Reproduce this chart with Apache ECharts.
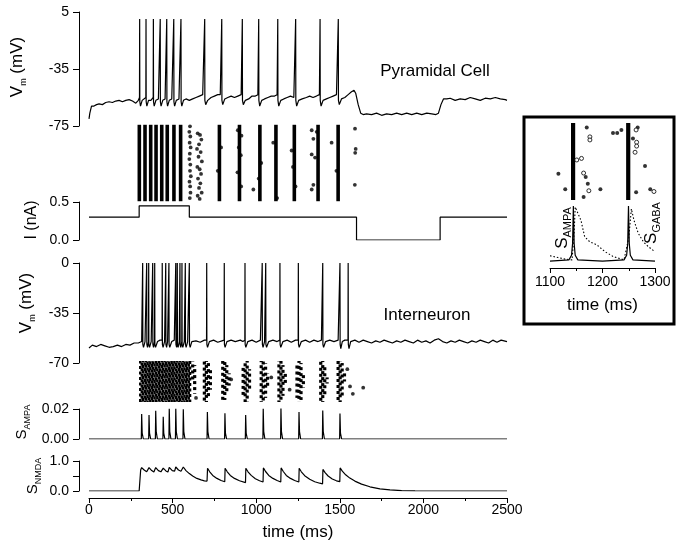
<!DOCTYPE html>
<html><head><meta charset="utf-8">
<script src="https://cdn.jsdelivr.net/npm/echarts@6/dist/echarts.min.js"></script>
<style>html,body{margin:0;padding:0;background:#fff}#c{width:683px;height:542px}</style>
</head><body><div id="c"></div>
<script>
// ---------------- DATA ----------------
var xTicks = [0, 500, 1000, 1500, 2000, 2500];
var pyrVm = [[0,-70],[5,-66],[15,-61],[30,-61],[45,-60],[60,-59.5],[80,-60],[100,-58.5],[120,-58],[140,-58.5],[160,-57.5],[180,-57],[200,-58],[220,-57],[240,-56.5],[260,-57.5],[280,-59],[295,-57],
[302,-55],[303,0],[304,-58],[308,-61],[318,-57],[340,-55],[341,0],[342,-58],[346,-61],[356,-57],[370,-57],
[384,-55],[385,0],[386,-58],[390,-61],[400,-57],[415,-56],[425,-55],[426,0],[427,-58],[431,-61],[441,-57],[455,-56],
[464,-55],[465,0],[466,-58],[470,-61],[480,-57],[495,-56],[506,-55],[507,0],[508,-58],[512,-61],[522,-57],[538,-56],
[549,-55],[550,0],[551,-58],[555,-61],[565,-57],[580,-56],[600,-57],[620,-56],[640,-55],[660,-54],[680,-53],[690,-54],
[691,-53],[692,0],[693,-57],[698,-60],[710,-57],[730,-55],[750,-54],[770,-53],[785,-53],
[793,-52],[794,0],[795,-57],[800,-60],[812,-56],[830,-55],[850,-54],[870,-55],[890,-54],[910,-53],
[916,-53],[917,0],[918,-57],[923,-60],[935,-57],[955,-56],[975,-54],[995,-54],[1010,-53],
[1014,-52],[1015,0],[1016,-57],[1021,-61],[1033,-57],[1050,-56],[1070,-55],[1090,-54],[1110,-54],[1125,-53],
[1128,-53],[1129,0],[1130,-57],[1135,-61],[1147,-57],[1165,-56],[1185,-55],[1205,-54],[1225,-55],
[1235,-54],[1236,0],[1237,-57],[1242,-61],[1254,-57],[1275,-56],[1300,-55],[1320,-54],[1340,-55],[1360,-54],[1378,-53],
[1381,-53],[1382,0],[1383,-57],[1388,-61],[1400,-57],[1420,-56],[1440,-55],[1460,-54],[1480,-53],
[1490,-52],[1491,0],[1492,-57],[1497,-60],[1510,-56],[1530,-55],[1550,-53],[1570,-51],[1585,-50],[1595,-52],[1610,-60],[1625,-66],
[1640,-67],[1660,-66.5],[1690,-67],[1720,-66],[1750,-67.5],[1780,-66.5],[1810,-67],[1840,-66],[1870,-67],[1900,-66],[1930,-67],[1960,-66],[1990,-67],[2020,-66],[2050,-66.5],[2075,-67],[2090,-66],
[2105,-60],[2120,-56],[2140,-56],[2160,-55.5],[2190,-57],[2220,-56],[2250,-56.5],[2280,-55],[2310,-56],[2340,-57],[2370,-55.5],[2400,-56],[2430,-55],[2460,-56],[2490,-56.5],[2500,-57]];

var pyrColT = [301,335,369,401,435,468,508,548,780,900,1022,1118,1228,1370,1490];
var pyrDots = [[604,97],[600,90],[606,84],[602,76],[608,70],[603,62],[600,55],[606,48],[604,40],[609,33],[601,26],[605,20],[607,12],[603,5],
[650,88],[664,86],[672,80],[658,74],[646,68],[668,64],[655,58],[675,52],[648,45],[662,42],[670,36],[652,30],[666,24],[658,18],[674,12],[650,8],[662,4],
[890,92],[912,85],[896,70],[908,60],[888,38],[910,20],[790,70],[770,40],[983,16],[1030,50],[1015,30],[1102,76],[1125,5],[1212,66],[1220,45],[1235,20],
[1332,92],[1342,81],[1362,90],[1332,61],[1352,57],[1342,22],[1332,16],[1451,76],[1480,40],[1591,94],[1595,68],[1592,63],[1590,22]];

var currentI = [[0,0.3],[300,0.3],[300,0.45],[600,0.45],[600,0.3],[1600,0.3],[1600,0],[2100,0],[2100,0.3],[2500,0.3]];

var intVm = [[0,-59.5],[20,-57.5],[45,-58.5],[70,-57],[95,-58],[120,-59],[145,-58.5],[170,-57.5],[195,-58.5],[220,-57],[245,-57.5],[270,-56],[295,-56],[315,-55],
[320,-54],[321,0],[322,-57],[326,-59],[335,-55],[344,-54],[345,0],[346,-57],[350,-59],[356,-55],[357,0],[358,-57],[362,-59],[372,-55],
[380,-54],[381,0],[382,-57],[386,-59],[392,-55],[393,0],[394,-57],[398,-59],[410,-55],[425,-54],
[437,-54],[438,0],[439,-57],[443,-59],[452,-55],[458,-54],[459,0],[460,-57],[464,-59],[470,-55],[477,-54],[478,0],[479,-57],[483,-59],[495,-55],[510,-54],
[518,-54],[519,0],[520,-57],[524,-59],[527,-55],[528,0],[529,-57],[533,-59],[540,-55],[543,-54],[544,0],[545,-57],[549,-59],[555,-55],[556,0],[557,-57],[561,-59],[570,-55],
[575,-54],[576,0],[577,-57],[581,-59],[590,-55],[599,-54],[600,0],[601,-57],[605,-59],[615,-55],[640,-54.5],[665,-55.5],[690,-54],
[703,-54],[704,0],[705,-57],[709,-59],[720,-55],[745,-54],[770,-55.5],[795,-54.5],
[808,-54],[809,0],[810,-57],[814,-59],[825,-55],[850,-54],[875,-55],[905,-54],[920,-55],
[932,-54],[933,0],[934,-57],[938,-59],[950,-55],[975,-54],[1000,-55.5],[1025,-54],
[1035,-54],[1036,0],[1037,-57],[1041,-59],[1050,-55],[1056,-54],[1057,0],[1058,-57],[1062,-59],[1075,-55],[1100,-54],[1125,-55],
[1141,-54],[1142,0],[1143,-57],[1147,-59],[1160,-55],[1185,-54],[1210,-55.5],[1235,-54],
[1251,-54],[1252,0],[1253,-57],[1257,-59],[1270,-55],[1295,-54],[1320,-55.5],[1345,-54],[1370,-55],[1390,-54],
[1397,-53],[1398,0],[1399,-57],[1403,-59],[1415,-55],[1440,-54],[1465,-55],[1490,-54],
[1500,-53],[1501,0],[1502,-57],[1506,-60],[1515,-55],[1530,-54],[1549,-54],[1550,0],[1551,-57],[1555,-60],[1565,-55],
[1590,-54],[1615,-55.5],[1640,-54],[1665,-55],[1690,-56],[1715,-54.5],[1740,-55.5],[1765,-54],[1790,-55],[1815,-56],[1840,-54.5],[1865,-55.5],
[1890,-54],[1915,-55],[1940,-56],[1965,-54],[1990,-55.5],[2015,-54.5],[2040,-56],[2065,-54],[2090,-53],[2115,-55],[2140,-56],[2165,-54.5],
[2190,-55.5],[2215,-54],[2240,-55],[2265,-56],[2290,-54.5],[2315,-55.5],[2340,-54],[2365,-55],[2390,-56],[2415,-54],[2440,-55.5],[2465,-54],[2500,-55]];

var intBlockT = [307,316,324,333,341,350,358,367,375,384,392,401,409,418,426,435,443,452,460,469,477,486,494,503,511,520,528,537,545,554,562,571,579,588,596,604];
var intBurstCols = [[620,55,100],[632,20,90],[690,0,100],[702,0,100],[714,10,95],[726,30,80],
[800,0,100],[812,5,100],[824,20,90],[838,40,70],
[922,10,90],[934,0,100],[946,0,100],[960,30,80],
[1030,0,100],[1042,0,100],[1056,10,95],[1068,35,70],
[1136,0,100],[1148,0,100],[1160,15,90],[1174,40,75],
[1244,10,95],[1256,0,100],[1268,5,95],[1282,35,70],
[1386,0,100],[1398,0,100],[1410,15,90],[1424,45,60],
[1490,0,100],[1502,0,100],[1514,10,95],[1528,50,70]];
var intDots = [[1561,38],[1640,35],[1545,80],[1578,20],[640,10],[850,55],[1090,60],[1200,30]];

var ampa = [[0,0],[313,0],[315,0.0166],[318,0.004],[325,0],[357,0],[359,0.016],[362,0.004],[369,0],[397,0],[399,0.0189],[402,0.005],[409,0],
[442,0],[444,0.0148],[447,0.004],[454,0],[478,0],[480,0.0204],[483,0.005],[490,0],[517,0],[519,0.0204],[522,0.005],[529,0],
[562,0],[564,0.0198],[567,0.005],[574,0],[615,0],[620,0.001],[628,0],[706,0],[708,0.018],[711,0.005],[718,0],
[811,0],[813,0.0171],[816,0.004],[823,0],[935,0],[937,0.016],[940,0.004],[947,0],[1040,0],[1042,0.0204],[1045,0.005],[1052,0],
[1146,0],[1148,0.0209],[1151,0.005],[1158,0],[1254,0],[1256,0.018],[1259,0.005],[1266,0],[1396,0],[1398,0.019],[1401,0.005],[1408,0],
[1499,0],[1501,0.017],[1504,0.004],[1511,0],[2500,0]];

var nmda = [[0,0],[300,0],[305,0.02],[309,0.7],[315,0.78],[330,0.7],[345,0.64],[359,0.78],[375,0.68],[388,0.63],[399,0.78],[415,0.68],[430,0.64],[444,0.76],[460,0.67],[472,0.63],
[480,0.79],[498,0.68],[512,0.66],[519,0.8],[535,0.7],[550,0.66],[564,0.8],[580,0.68],[600,0.58],[620,0.5],[645,0.42],[670,0.37],[690,0.34],[706,0.33],
[709,0.76],[722,0.64],[740,0.52],[765,0.42],[790,0.35],[812,0.31],[814,0.76],[827,0.64],[845,0.52],[870,0.42],[900,0.34],[936,0.28],
[938,0.76],[951,0.64],[970,0.52],[995,0.41],[1020,0.34],[1041,0.3],[1043,0.77],[1056,0.65],[1075,0.52],[1100,0.42],[1125,0.35],[1147,0.3],
[1149,0.77],[1162,0.65],[1180,0.52],[1205,0.42],[1230,0.35],[1255,0.3],[1257,0.76],[1270,0.64],[1290,0.51],[1320,0.39],[1350,0.31],[1380,0.26],[1397,0.24],
[1399,0.72],[1412,0.61],[1430,0.5],[1455,0.4],[1480,0.34],[1500,0.31],[1502,0.77],[1515,0.66],[1535,0.54],[1560,0.43],[1590,0.33],[1630,0.23],
[1680,0.14],[1740,0.07],[1800,0.035],[1870,0.015],[1950,0.005],[2050,0],[2500,0]];

// inset
var insetTicks = [1100, 1200, 1300];
var insetColT = [1144, 1249];
var insetFilled = [[1170,94],[1116,34],[1129,14],[1172,21],[1164,4],[1196,14],[1168,30],[1220,87],[1228,87],[1236,91],[1267,94],[1258,80],[1281,44],[1291,14],[1264,10]];
var insetOpen = [[1176,82],[1176,78],[1160,54],[1151,52],[1164,35],[1174,12],[1264,91],[1265,75],[1265,70],[1298,11],[1262,62]];
var insetAmpa = [[1100,0],[1136,0.02],[1141,0.1],[1143,0.3],[1144.5,0.95],[1146,0.3],[1148,0.1],[1153,0.02],[1200,0],[1241,0.02],[1246,0.1],[1248,0.3],[1249.5,0.95],[1251,0.3],[1253,0.1],[1258,0.02],[1300,0]];
var insetGaba = [[1100,0.09],[1115,0.06],[1130,0.03],[1142,0.02],[1146,0.5],[1148,0.93],[1159,0.7],[1166,0.42],[1176,0.33],[1189,0.28],[1205,0.16],[1221,0.075],[1241,0.02],[1250,0.4],[1255,0.9],[1260,0.7],[1268,0.48],[1278,0.33],[1287,0.25],[1300,0.16]];

// ---------------- CHART ----------------
var FONT = 'Liberation Sans, Arial, sans-serif';
var chart = echarts.init(document.getElementById('c'), null, {renderer: 'canvas'});

function colRender(width, dash) {
  return function (params, api) {
    var p1 = api.coord([api.value(0), api.value(1)]);
    var p2 = api.coord([api.value(0), api.value(2)]);
    return {type: 'line', shape: {x1: p1[0], y1: p1[1], x2: p2[0], y2: p2[1]},
      style: {stroke: '#000', lineWidth: width, lineDash: dash || null, lineDashOffset: dash ? (params.dataIndex * 2.3) % 5 : 0}};
  };
}

var L = 89, W = 418;
var grids = [
  {left: L, width: W, top: 12, height: 114},
  {left: L, width: W, top: 124, height: 78},
  {left: L, width: W, top: 202, height: 38},
  {left: L, width: W, top: 263, height: 100},
  {left: L, width: W, top: 361, height: 41},
  {left: L, width: W, top: 409, height: 30},
  {left: L, width: W, top: 461, height: 31},
  {left: 550, width: 105, top: 123, height: 77},
  {left: 550, width: 105, top: 203, height: 65}
];
function fmtInt(v) { return String(v); }
var xAxes = [];
for (var i = 0; i < 9; i++) {
  if (i < 7) {
    xAxes.push({type: 'value', gridIndex: i, min: 0, max: 2500, interval: 500, show: i === 6,
      offset: 7, axisLine: {onZero: false, lineStyle: {color: '#000', width: 1}}, axisTick: {length: 5, lineStyle: {color: '#000'}},
      minorTick: {show: true, splitNumber: 2, length: 3, lineStyle: {color: '#000'}},
      splitLine: {show: false},
      axisLabel: {color: '#000', fontSize: 14, fontFamily: FONT, margin: 5, formatter: fmtInt},
      name: 'time (ms)', nameLocation: 'middle', nameGap: 26, nameTextStyle: {color: '#000', fontSize: 17, fontFamily: FONT}});
  } else {
    xAxes.push({type: 'value', gridIndex: i, min: 1100, max: 1300, interval: 100, show: i === 8,
      axisLine: {onZero: false, lineStyle: {color: '#000', width: 1}}, axisTick: {length: 5, lineStyle: {color: '#000'}},
      minorTick: {show: true, splitNumber: 2, length: 3, lineStyle: {color: '#000'}},
      splitLine: {show: false},
      axisLabel: {color: '#000', fontSize: 14, fontFamily: FONT, margin: 7, formatter: fmtInt},
      name: 'time (ms)', nameLocation: 'middle', nameGap: 29, nameTextStyle: {color: '#000', fontSize: 17, fontFamily: FONT}});
  }
}
function yAx(idx, min, max, interval, fmt, show) {
  return {type: 'value', gridIndex: idx, min: min, max: max, interval: interval, show: show, offset: 10,
    axisLine: {show: true, onZero: false, lineStyle: {color: '#000', width: 1}},
    axisTick: {show: true, length: 6, lineStyle: {color: '#000'}},
    splitLine: {show: false},
    axisLabel: {color: '#000', fontSize: 14, fontFamily: FONT, margin: 10, formatter: fmt}};
}
var yAxes = [
  yAx(0, -75, 5, 40, fmtInt, true),
  yAx(1, 0, 100, 50, null, false),
  yAx(2, 0, 0.5, 0.5, function (v) { return v.toFixed(1); }, true),
  yAx(3, -70, 0, 35, fmtInt, true),
  yAx(4, 0, 100, 50, null, false),
  yAx(5, 0, 0.02, 0.02, function (v) { return v.toFixed(2); }, true),
  yAx(6, 0, 1, 0.5, function (v) { return v === 0.5 ? '' : v.toFixed(1); }, true),
  yAx(7, 0, 100, 50, null, false),
  yAx(8, -0.12, 1, 0.5, null, false)
];

function line(xi, data, extra) {
  var s = {type: 'line', xAxisIndex: xi, yAxisIndex: xi, data: data, showSymbol: false, symbol: 'none',
    lineStyle: {color: '#000', width: 1.2}, animation: false, silent: true};
  if (extra) for (var k in extra) s[k] = extra[k];
  return s;
}
var series = [
  line(0, pyrVm),
  {type: 'custom', xAxisIndex: 1, yAxisIndex: 1, data: pyrColT.map(function (t) { return [t, 1, 99]; }), renderItem: colRender(3.6), animation: false, silent: true},
  {type: 'scatter', xAxisIndex: 1, yAxisIndex: 1, data: pyrDots, symbolSize: 3.8, itemStyle: {color: '#000'}, animation: false, silent: true},
  line(2, currentI),
  line(3, intVm),
  {type: 'custom', xAxisIndex: 4, yAxisIndex: 4, data: intBlockT.map(function (t) { return [t, 0, 100]; }), renderItem: colRender(2.6, [3, 2.5]), animation: false, silent: true},
  {type: 'custom', xAxisIndex: 4, yAxisIndex: 4, data: intBurstCols, renderItem: colRender(3.2, [3, 3]), animation: false, silent: true},
  {type: 'scatter', xAxisIndex: 4, yAxisIndex: 4, data: intDots, symbolSize: 3.8, itemStyle: {color: '#000'}, animation: false, silent: true},
  line(5, ampa),
  line(6, nmda),
  {type: 'custom', xAxisIndex: 7, yAxisIndex: 7, data: insetColT.map(function (t) { return [t, 0, 100]; }), renderItem: colRender(4.2), animation: false, silent: true},
  {type: 'scatter', xAxisIndex: 7, yAxisIndex: 7, data: insetFilled, symbolSize: 4, itemStyle: {color: '#000'}, animation: false, silent: true},
  {type: 'scatter', xAxisIndex: 7, yAxisIndex: 7, data: insetOpen, symbolSize: 4, itemStyle: {color: '#fff', borderColor: '#000', borderWidth: 1}, animation: false, silent: true},
  line(8, insetGaba, {lineStyle: {color: '#000', width: 1.1, type: [1.5, 2]}}),
  line(8, insetAmpa)
];

function vtext(x, y, main, sub, rest, size, subSize) {
  return {type: 'text', x: x, y: y, rotation: Math.PI / 2, silent: true,
    style: {text: '{a|' + main + '}{b|' + sub + '}' + (rest ? '{a|' + rest + '}' : ''), align: 'center', verticalAlign: 'middle',
      rich: {a: {fontSize: size, fontFamily: FONT, fill: '#000', lineHeight: size + 2, verticalAlign: 'bottom'},
             b: {fontSize: subSize, fontFamily: FONT, fill: '#000', lineHeight: size + 2, verticalAlign: 'bottom', padding: [0, 0, -3, 0]}}}};
}

chart.setOption({
  animation: false,
  backgroundColor: '#fff',
  grid: grids,
  xAxis: xAxes,
  yAxis: yAxes,
  series: series,
  graphic: [
    {type: 'rect', shape: {x: 524, y: 117, width: 150, height: 207}, style: {fill: 'none', stroke: '#000', lineWidth: 3}, silent: true},
    {type: 'text', x: 435, y: 71, silent: true, style: {text: 'Pyramidal Cell', fontSize: 17, fontFamily: FONT, fill: '#000', align: 'center', verticalAlign: 'middle'}},
    {type: 'text', x: 427, y: 315, silent: true, style: {text: 'Interneuron', fontSize: 17, fontFamily: FONT, fill: '#000', align: 'center', verticalAlign: 'middle'}},
    vtext(16, 67, 'V', 'm', ' (mV)', 17, 9),
    {type: 'text', x: 32, y: 220, rotation: Math.PI / 2, silent: true, style: {text: 'I (nA)', fontSize: 16, fontFamily: FONT, fill: '#000', align: 'center', verticalAlign: 'middle'}},
    vtext(25, 303, 'V', 'm', ' (mV)', 17, 9),
    vtext(21, 422, 'S', 'AMPA', '', 15, 9),
    vtext(32, 476, 'S', 'NMDA', '', 15, 9),
    vtext(561, 228, 'S', 'AMPA', '', 17, 11),
    vtext(650, 223, 'S', 'GABA', '', 17, 11)
  ]
});
</script></body></html>
